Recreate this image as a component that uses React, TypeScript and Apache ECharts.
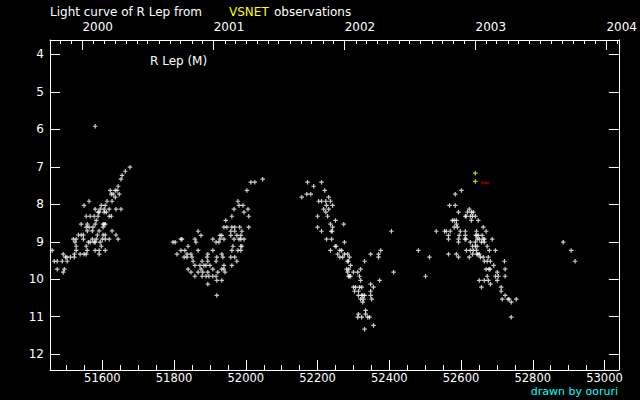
import React, { useEffect, useRef } from "react";
import * as echarts from "echarts";

// ---- data (JD - 2400000, visual magnitude) ----
const season2000: number[][] = [
  [51580, 5.92],
  [51677, 7.01], [51664, 7.12], [51655, 7.23], [51652, 7.33], [51644, 7.52],
  [51622, 7.63], [51636, 7.63], [51641, 7.63],
  [51625, 7.73], [51630, 7.73], [51647, 7.73],
  [51636, 7.81],
  [51563, 7.92], [51613, 7.92], [51627, 7.92],
  [51549, 8.03], [51597, 8.03], [51608, 8.03],
  [51580, 8.13], [51594, 8.13], [51605, 8.13], [51619, 8.13], [51638, 8.13], [51652, 8.13],
  [51588, 8.21], [51591, 8.21], [51605, 8.21], [51611, 8.21],
  [51555, 8.32], [51566, 8.32], [51577, 8.32], [51588, 8.32], [51619, 8.32], [51625, 8.32],
  [51583, 8.43],
  [51541, 8.53], [51558, 8.53], [51580, 8.53], [51602, 8.53], [51605, 8.53], [51608, 8.53],
  [51555, 8.61], [51563, 8.61], [51574, 8.61], [51602, 8.61],
  [51558, 8.71], [51572, 8.71], [51591, 8.71], [51627, 8.71],
  [51533, 8.82], [51541, 8.82], [51547, 8.82], [51586, 8.82], [51602, 8.82], [51608, 8.82], [51638, 8.82],
  [51519, 8.93], [51527, 8.93], [51547, 8.93], [51572, 8.93], [51583, 8.93], [51600, 8.93], [51608, 8.93], [51619, 8.93], [51644, 8.93],
  [51524, 9.01], [51561, 9.01], [51566, 9.01], [51577, 9.01], [51580, 9.01], [51594, 9.01],
  [51527, 9.12], [51555, 9.12], [51597, 9.12],
  [51460, 9.23], [51527, 9.23], [51558, 9.23], [51580, 9.23], [51591, 9.23], [51608, 9.23],
  [51491, 9.33], [51522, 9.33], [51538, 9.33], [51549, 9.33], [51555, 9.33], [51591, 9.33],
  [51497, 9.41], [51501, 9.41], [51511, 9.41], [51522, 9.41],
  [51466, 9.52], [51474, 9.52], [51488, 9.52], [51502, 9.52],
  [51474, 9.73], [51494, 9.73], [51491, 9.81],
];

const season2001: number[][] = [
  [52047, 7.33], [52014, 7.41], [52025, 7.41], [52003, 7.63],
  [51978, 7.92], [51981, 8.03], [51992, 8.03], [51967, 8.13], [52006, 8.13], [51995, 8.21],
  [51961, 8.32], [52008, 8.32], [51944, 8.43],
  [51939, 8.61], [51947, 8.61], [51961, 8.61], [51969, 8.61], [51983, 8.61], [52008, 8.61],
  [51867, 8.72], [51958, 8.72], [51969, 8.72], [51989, 8.72],
  [51875, 8.83], [51928, 8.83], [51933, 8.83], [51958, 8.83], [51975, 8.83], [51986, 8.83],
  [51819, 8.93], [51822, 8.93], [51858, 8.93], [51908, 8.93], [51928, 8.93], [51939, 8.93], [51967, 8.93], [51981, 8.93], [51986, 8.93], [51995, 8.93],
  [51797, 9.01], [51803, 9.01], [51861, 9.01], [51917, 9.01], [51925, 9.01],
  [51839, 9.12], [51964, 9.12], [51986, 9.12], [51989, 9.12],
  [51819, 9.23], [51830, 9.23], [51867, 9.23], [51908, 9.23], [51961, 9.23], [51978, 9.23], [51986, 9.23],
  [51808, 9.33], [51836, 9.33], [51847, 9.33], [51894, 9.33], [51933, 9.33],
  [51828, 9.41], [51836, 9.41], [51850, 9.41], [51892, 9.41], [51919, 9.41], [51936, 9.41], [51958, 9.41], [51969, 9.41],
  [51853, 9.52], [51878, 9.52], [51894, 9.52], [51917, 9.52], [51975, 9.52],
  [51858, 9.63], [51872, 9.63], [51883, 9.63], [51889, 9.63], [51900, 9.63], [51939, 9.63], [51961, 9.63],
  [51839, 9.73], [51875, 9.73], [51908, 9.73], [51933, 9.73], [51939, 9.73],
  [51847, 9.81], [51867, 9.81], [51880, 9.81], [51894, 9.81], [51922, 9.81], [51942, 9.81],
  [51858, 9.92], [51878, 9.92], [51889, 9.92], [51897, 9.92], [51908, 9.92], [51917, 9.92],
  [51919, 10.03], [51933, 10.03], [51894, 10.13], [51919, 10.43],
];

const season2002: number[][] = [
  [52172, 7.41], [52211, 7.41], [52189, 7.52], [52220, 7.63], [52170, 7.73], [52181, 7.73], [52156, 7.81], [52231, 7.81],
  [52203, 7.92], [52211, 7.92], [52223, 7.92], [52236, 7.92],
  [52225, 8.03], [52242, 8.03], [52217, 8.13], [52231, 8.13], [52223, 8.21], [52200, 8.32], [52228, 8.32], [52250, 8.43],
  [52236, 8.53], [52273, 8.53], [52200, 8.61], [52242, 8.61],
  [52211, 8.72], [52238, 8.72], [52241, 8.72], [52406, 8.72],
  [52225, 8.93], [52239, 8.93], [52275, 9.01],
  [52249, 9.12], [52252, 9.12],
  [52236, 9.23], [52262, 9.23], [52267, 9.23], [52376, 9.23],
  [52256, 9.33], [52275, 9.33], [52284, 9.33], [52348, 9.33], [52370, 9.33],
  [52262, 9.41], [52270, 9.41], [52289, 9.41], [52370, 9.41],
  [52283, 9.52], [52286, 9.52], [52331, 9.52],
  [52292, 9.63],
  [52281, 9.73], [52287, 9.73], [52320, 9.73],
  [52284, 9.81], [52300, 9.81], [52312, 9.81], [52412, 9.81],
  [52286, 9.92], [52289, 9.92], [52292, 9.92], [52317, 9.92],
  [52320, 10.03], [52373, 10.03], [52348, 10.13],
  [52300, 10.21], [52306, 10.21], [52317, 10.21], [52323, 10.21], [52356, 10.21],
  [52303, 10.32], [52314, 10.32], [52348, 10.32],
  [52314, 10.43], [52323, 10.43], [52326, 10.43], [52331, 10.43], [52348, 10.43],
  [52320, 10.53], [52328, 10.53], [52351, 10.53],
  [52326, 10.61], [52334, 10.83], [52314, 10.93], [52334, 10.93],
  [52312, 11.01], [52323, 11.01], [52340, 11.01], [52345, 11.01],
  [52356, 11.23], [52331, 11.33],
];

const season2003: number[][] = [
  [52481, 9.23], [52501, 9.92], [52512, 9.41], [52531, 8.72],
  [52601, 7.63], [52584, 7.73], [52568, 8.03], [52584, 8.03], [52623, 8.13],
  [52593, 8.21], [52618, 8.21], [52629, 8.21], [52634, 8.21],
  [52612, 8.32], [52614, 8.32], [52626, 8.32], [52632, 8.32], [52640, 8.32],
  [52576, 8.43], [52581, 8.43], [52587, 8.43], [52629, 8.43], [52648, 8.43],
  [52587, 8.53], [52581, 8.61], [52590, 8.61], [52662, 8.61],
  [52554, 8.72], [52559, 8.72], [52570, 8.72], [52598, 8.72], [52612, 8.72], [52643, 8.72], [52670, 8.72],
  [52565, 8.83], [52595, 8.83], [52612, 8.83], [52641, 8.83], [52644, 8.83], [52648, 8.83], [52659, 8.83],
  [52565, 8.93], [52593, 8.93], [52611, 8.93], [52614, 8.93], [52645, 8.93], [52651, 8.93], [52662, 8.93], [52665, 8.93], [52687, 8.93],
  [52593, 9.01], [52626, 9.01], [52640, 9.01], [52657, 9.01], [52665, 9.01],
  [52632, 9.12], [52640, 9.12], [52645, 9.12], [52673, 9.12],
  [52615, 9.23], [52626, 9.23], [52634, 9.23], [52643, 9.23], [52679, 9.23], [52696, 9.23],
  [52565, 9.33], [52587, 9.33], [52632, 9.33], [52644, 9.33], [52647, 9.33], [52651, 9.33],
  [52593, 9.41], [52623, 9.41], [52654, 9.41], [52662, 9.41], [52676, 9.41],
  [52665, 9.52], [52673, 9.52], [52682, 9.52], [52721, 9.52],
  [52691, 9.63],
  [52670, 9.73], [52678, 9.73], [52681, 9.73], [52723, 9.73],
  [52701, 9.81],
  [52673, 9.92], [52696, 9.92], [52704, 9.92], [52723, 9.92],
  [52651, 10.03], [52665, 10.03], [52676, 10.03], [52701, 10.03],
  [52682, 10.13], [52657, 10.21], [52712, 10.21], [52712, 10.32], [52723, 10.43],
  [52715, 10.53], [52731, 10.53], [52734, 10.53], [52754, 10.53],
  [52740, 10.61], [52740, 11.01],
  [52885, 9.01], [52907, 9.23], [52918, 9.52],
];

const yellowObs: number[][] = [[52640, 7.17], [52640, 7.39]];
const fainterThan: number[][] = [[52659, 7.44], [52667, 7.44], [52674, 7.44]];

// ---- axes ----
const X_MIN = 51454;
const X_MAX = 53040;
const MAG_MIN = 3.62;
const MAG_MAX = 12.42;
const jdLabels = [51600, 51800, 52000, 52200, 52400, 52600, 52800, 53000];
const jdMinorTicks = [
  51500, 51550, 51600, 51650, 51700, 51750, 51800, 51850, 51900, 51950, 52000,
  52050, 52100, 52150, 52200, 52250, 52300, 52350, 52400, 52450, 52500, 52550,
  52600, 52650, 52700, 52750, 52800, 52850, 52900, 52950, 53000,
];
const magTicks = [4, 5, 6, 7, 8, 9, 10, 11, 12];
const yearLabels = [2000, 2001, 2002, 2003, 2004];
const monthTickYears = [1999, 2000, 2001, 2002, 2003, 2004];

const toJD = (y: number, m: number) => Date.UTC(y, m, 1) / 86400000 + 2440587.5 - 2400000;
const yearJD = yearLabels.map((y) => toJD(y, 0));
const monthJD: number[] = [];
monthTickYears.forEach((y) => {
  for (let m = 0; m < 12; m++) {
    const v = toJD(y, m);
    if (v > X_MIN && v < X_MAX) monthJD.push(v);
  }
});

const FONT = "DejaVu Sans";
const WHITE = "#ffffff";
const PLUS = "path://M1.65,0h1.2v4.5h-1.2z M0,1.65h4.5v1.2h-4.5z";
const VEE = "path://M0,0L0.9,0L1.5,1.2L2.1,0L3,0L1.5,2.4Z";

export default function App() {
  const ref = useRef<HTMLDivElement>(null);

  useEffect(() => {
    document.body.style.margin = "0";
    document.body.style.background = "#000";
    if (!ref.current) return;
    const chart = echarts.init(ref.current, undefined, { renderer: "svg" });

    const whiteSeries = (data: number[][]) => ({
      type: "scatter",
      xAxisIndex: 0,
      yAxisIndex: 0,
      data,
      symbol: PLUS,
      symbolSize: 4.5,
      itemStyle: { color: WHITE },
      silent: true,
    });

    const tickStyle = { color: WHITE, width: 1 };

    chart.setOption({
      animation: false,
      backgroundColor: "#000000",
      grid: { left: 50, right: 20, top: 40, bottom: 30, containLabel: false },
      xAxis: [
        {
          type: "value",
          position: "bottom",
          min: X_MIN,
          max: X_MAX,
          axisLine: { show: true, onZero: false, lineStyle: tickStyle },
          axisTick: { show: true, inside: true, length: 10, customValues: jdLabels, lineStyle: tickStyle },
          axisLabel: {
            customValues: jdLabels,
            color: WHITE,
            fontFamily: FONT,
            fontSize: 11.5,
            margin: 2,
            formatter: (v: number) => String(Math.round(v)),
          },
          splitLine: { show: false },
        },
        {
          type: "value",
          position: "bottom",
          min: X_MIN,
          max: X_MAX,
          axisLine: { show: false, onZero: false },
          axisTick: { show: true, inside: true, length: 5, customValues: jdMinorTicks, lineStyle: tickStyle },
          axisLabel: { show: false },
          splitLine: { show: false },
        },
        {
          type: "value",
          position: "top",
          min: X_MIN,
          max: X_MAX,
          axisLine: { show: true, onZero: false, lineStyle: tickStyle },
          axisTick: { show: true, inside: true, length: 10, customValues: yearJD, lineStyle: tickStyle },
          axisLabel: {
            customValues: yearJD,
            color: WHITE,
            fontFamily: FONT,
            fontSize: 12,
            margin: 7,
            align: "left",
            formatter: (v: number) => String(yearLabels[yearJD.findIndex((j) => Math.abs(j - v) < 1)] ?? ""),
          },
          splitLine: { show: false },
        },
        {
          type: "value",
          position: "top",
          min: X_MIN,
          max: X_MAX,
          axisLine: { show: false, onZero: false },
          axisTick: { show: true, inside: true, length: 4, customValues: monthJD, lineStyle: tickStyle },
          axisLabel: { show: false },
          splitLine: { show: false },
        },
      ],
      yAxis: [
        {
          type: "value",
          position: "left",
          inverse: true,
          min: MAG_MIN,
          max: MAG_MAX,
          axisLine: { show: true, onZero: false, lineStyle: tickStyle },
          axisTick: { show: true, inside: true, length: 10, customValues: magTicks, lineStyle: tickStyle },
          axisLabel: { customValues: magTicks, color: WHITE, fontFamily: FONT, fontSize: 12, margin: 6 },
          splitLine: { show: false },
        },
        {
          type: "value",
          position: "right",
          inverse: true,
          min: MAG_MIN,
          max: MAG_MAX,
          axisLine: { show: true, onZero: false, lineStyle: tickStyle },
          axisTick: { show: true, inside: true, length: 10, customValues: magTicks, lineStyle: tickStyle },
          axisLabel: { show: false },
          splitLine: { show: false },
        },
      ],
      series: [
        whiteSeries(season2000),
        whiteSeries(season2001),
        whiteSeries(season2002),
        whiteSeries(season2003),
        {
          type: "scatter",
          data: yellowObs,
          symbol: PLUS,
          symbolSize: 4.5,
          itemStyle: { color: "#ffff00" },
          silent: true,
        },
        {
          type: "scatter",
          data: fainterThan,
          symbol: VEE,
          symbolSize: [3.6, 3],
          itemStyle: { color: "#ff0000" },
          silent: true,
        },
      ],
      graphic: [
        {
          type: "text",
          x: 50,
          y: 12,
          style: { text: "Light curve of R Lep from", fill: WHITE, font: `12px "${FONT}"`, textAlign: "left", textVerticalAlign: "middle" },
        },
        {
          type: "text",
          x: 229,
          y: 12,
          style: { text: "VSNET", fill: "#ffff00", font: `12px "${FONT}"`, textAlign: "left", textVerticalAlign: "middle" },
        },
        {
          type: "text",
          x: 274,
          y: 12,
          style: { text: "observations", fill: WHITE, font: `12px "${FONT}"`, textAlign: "left", textVerticalAlign: "middle" },
        },
        {
          type: "text",
          x: 150,
          y: 60.5,
          style: { text: "R Lep (M)", fill: WHITE, font: `12px "${FONT}"`, textAlign: "left", textVerticalAlign: "middle" },
        },
        {
          type: "text",
          x: 618,
          y: 391.5,
          style: { text: "drawn by ooruri", fill: "#00ffff", font: `11px "${FONT}"`, textAlign: "right", textVerticalAlign: "middle" },
        },
      ],
    });

    return () => chart.dispose();
  }, []);

  return <div ref={ref} style={{ width: 640, height: 400, background: "#000" }} />;
}
